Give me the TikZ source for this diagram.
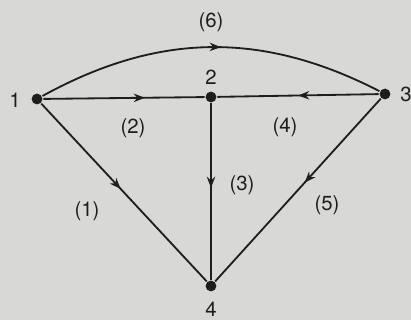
\documentclass[tikz,border=0pt]{standalone}
\usepackage{fontspec}
\setmainfont{TeX Gyre Heros}
\usetikzlibrary{arrows.meta,decorations.markings}
\definecolor{paper}{RGB}{216,216,214}
\definecolor{ink}{RGB}{30,30,30}
\tikzset{
  dot/.style={circle,fill=ink,inner sep=0pt,minimum size=0.27cm},
  lbl/.style={font=\fontsize{14.5}{16}\selectfont,text=ink,inner sep=1pt},
  midarrow/.style={postaction={decorate},
    decoration={markings,mark=at position #1 with {\arrow{Stealth[length=8pt,width=6pt]}}}}
}
\begin{document}
\begin{tikzpicture}[x=0.5cm,y=0.5cm,line width=1.3pt]
  \useasboundingbox (0,0) rectangle (20.55,16);
  \fill[paper] (0,0) rectangle (20.55,16);
  % vertices
  \node[dot] (n1) at (1.85,11.05) {};
  \node[dot] (n2) at (10.55,11.15) {};
  \node[dot] (n3) at (19.25,11.3) {};
  \node[dot] (n4) at (10.55,1.7) {};
  \node[lbl] (t1) at (0.75,11.0) {1};
  \node[lbl] (t2) at (10.55,12.15) {2};
  \node[lbl] (t3) at (20.3,11.3) {3};
  \node[lbl] (t4) at (10.55,0.55) {4};
  % branches
  \draw[ink,midarrow=0.53] (n1) to[bend left=28] (n3);
  \draw[ink,midarrow=0.63] (n1) -- (n2);
  \draw[ink,midarrow=0.5] (n3) -- (n2);
  \draw[ink,midarrow=0.48] (n2) -- (n4);
  \draw[ink,midarrow=0.48] (n1) -- (n4);
  \draw[ink,midarrow=0.46] (n3) -- (n4);
  % branch numbers
  \node[lbl] (b6) at (10.55,14.9) {(6)};
  \node[lbl] (b2) at (6.65,9.6) {(2)};
  \node[lbl] (b4) at (14.25,9.65) {(4)};
  \node[lbl] (b3) at (12.1,6.75) {(3)};
  \node[lbl] (b1) at (4.35,5.45) {(1)};
  \node[lbl] (b5) at (16.35,5.75) {(5)};
\end{tikzpicture}
\end{document}
